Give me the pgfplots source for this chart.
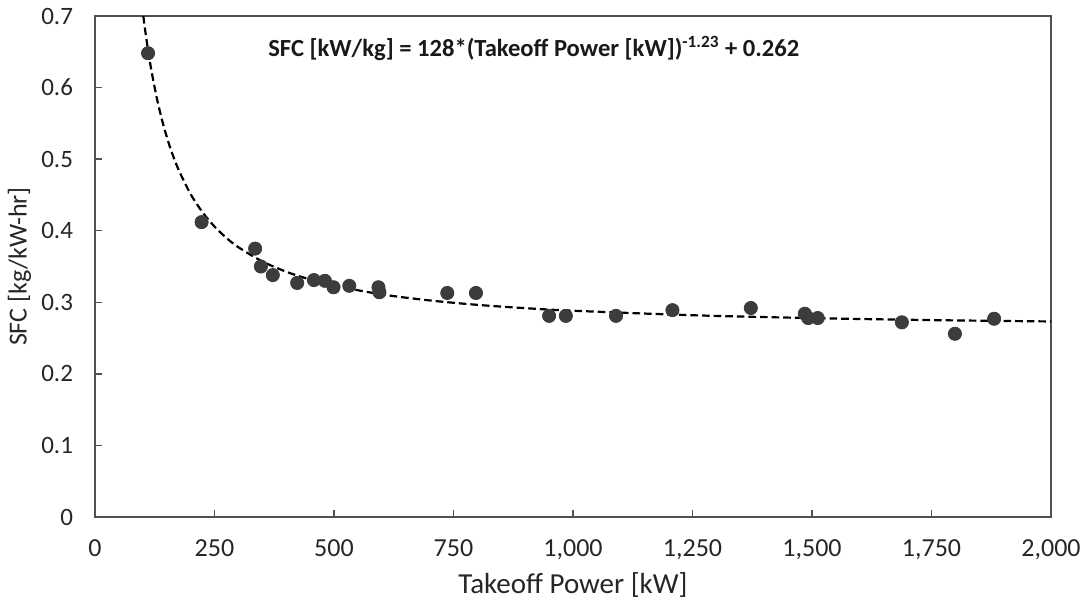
\documentclass[border=0pt]{standalone}
\usepackage{fontspec}
\setmainfont{Carlito}
\usepackage{pgfplots}
\pgfplotsset{compat=1.18}
\definecolor{axisgray}{HTML}{505050}
\definecolor{dotgray}{HTML}{3C3C3C}
\begin{document}
\begin{tikzpicture}
\begin{axis}[
  scale only axis, width=478pt, height=250.5pt,
  xmin=0, xmax=2000, ymin=0, ymax=0.7,
  xtick={0,250,500,750,1000,1250,1500,1750,2000},
  ytick={0,0.1,0.2,0.3,0.4,0.5,0.6,0.7},
  tick align=inside, xtick pos=bottom, ytick pos=left,
  major tick length=3.5pt,
  axis line style={draw=axisgray, line width=0.8pt},
  tick style={draw=axisgray, line width=0.7pt},
  /pgf/number format/assume math mode=true,
  /pgf/number format/1000 sep={,},
  yticklabel style={/pgf/number format/fixed, /pgf/number format/precision=1,
     font=\fontsize{12.5}{14}\selectfont, text=black!85, xshift=-7.5pt},
  xticklabel style={font=\fontsize{13}{15}\selectfont, text=black!85, yshift=-8pt},
  xlabel={Takeoff Power [kW]},
  ylabel={SFC [kg/kW-hr]},
  xlabel style={at={(axis description cs:0.5,-0.135)}, anchor=center, font=\fontsize{14.5}{17}\selectfont, text=black!85},
  ylabel style={at={(axis description cs:-0.079,0.5)}, anchor=center, font=\fontsize{13}{16}\selectfont, text=black!85},
  clip=true,
]
\addplot[black, line width=1.1pt, dash pattern=on 3.8pt off 2pt, smooth] coordinates {
(101.1,0.7000) (105,0.6799) (110,0.6566) (115,0.6356) (120,0.6166) (130,0.5833)
(140,0.5553) (150,0.5314) (160,0.5108) (175,0.4850) (200,0.4512) (225,0.4257)
(250,0.4058) (275,0.3899) (300,0.3769) (350,0.3571) (400,0.3427) (450,0.3318)
(500,0.3233) (600,0.3110) (700,0.3026) (800,0.2964) (900,0.2918) (1000,0.2882)
(1250,0.2819) (1500,0.2779) (1750,0.2751) (2000,0.2732)
};
\addplot[only marks, mark=*, mark size=3.3pt, draw=dotgray, fill=dotgray] coordinates {
(111,0.648) (223,0.412) (335,0.375) (347,0.350) (372,0.338) (423,0.327)
(458,0.331) (481,0.330) (499,0.321) (532,0.323) (593,0.321) (595,0.314)
(737,0.313) (797,0.313) (950,0.281) (985,0.281) (1090,0.281) (1208,0.289)
(1372,0.292) (1485,0.284) (1492,0.278) (1512,0.278) (1688,0.272)
(1799,0.256) (1881,0.277)
};
\node[font=\fontsize{12.3}{14}\selectfont\bfseries, text=black!90] at (axis cs:918,0.655)
  {SFC [kW/kg] = 128*(Takeoff Power [kW])\textsuperscript{-1.23} + 0.262};
\coordinate (bl) at (rel axis cs:0,0);
\coordinate (tr) at (rel axis cs:1,1);
\end{axis}
\pgfresetboundingbox
\path[use as bounding box] ([xshift=-47.5pt,yshift=-43.5pt]bl) rectangle ([xshift=17.5pt,yshift=8pt]tr);
\end{tikzpicture}
\end{document}
